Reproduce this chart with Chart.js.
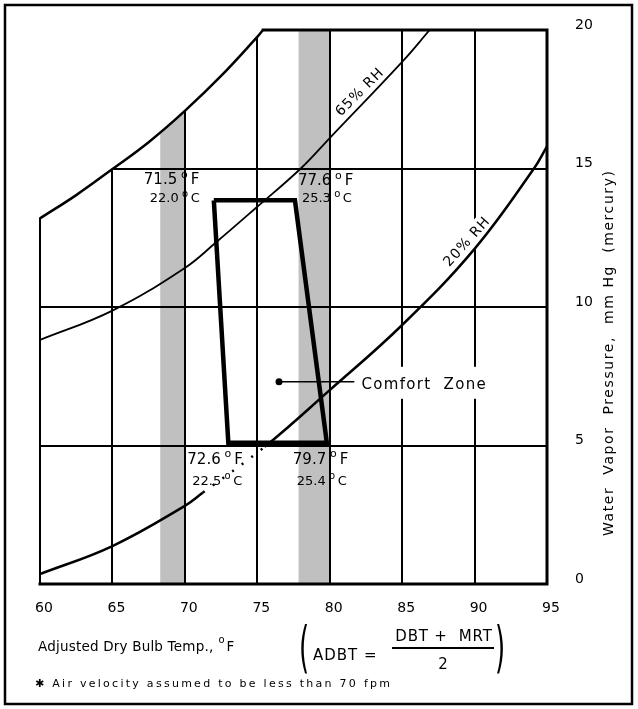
<!DOCTYPE html>
<html>
<head>
<meta charset="utf-8">
<script src="https://cdn.jsdelivr.net/npm/chart.js@4.4.0/dist/chart.umd.min.js"></script>
<style>
  html, body { margin: 0; padding: 0; background: #fff; }
  #wrap { width: 638px; height: 709px; position: relative; }
</style>
</head>
<body>
<div id="wrap"><canvas id="comfortChart"></canvas></div>
<script>
// Adjusted dry bulb temp (°F) against water vapour pressure (mm Hg)
const xTicks = [60, 65, 70, 75, 80, 85, 90, 95];
const yTicks = [0, 5, 10, 15, 20];

// upper boundary curve of the chart
const satTemp = [60, 62.5, 65, 67.5, 70, 72.5, 75, 75.4];
const satVp = [13.2, 14.04, 14.98, 15.95, 17.08, 18.34, 19.75, 20];

// 65% RH curve
const rh65Temp = [60, 65, 70, 72.1, 75, 78.0, 80, 85, 86.9];
const rh65Vp = [8.81, 9.87, 11.41, 12.31, 13.62, 15.0, 16.1, 18.85, 20];

// 20% RH curve
const rh20Temp = [60, 65, 70, 71.25, 75.5, 80, 85, 90, 94.1, 95];
const rh20Vp = [0.36, 1.37, 2.82, 3.3, 4.95, 7.0, 9.35, 12.1, 15.0, 15.8];

// shaded bands
const bandFrom = [68.3, 77.85];
const bandTo = [70, 80];

// comfort zone (TL, TR, BR, BL, back to TL)
const zoneTemp = [72.0, 77.6, 79.8, 73.0, 72.0];
const zoneVp = [13.85, 13.85, 5.1, 5.1, 13.85];
const cornerF = ['71.5', '77.6', '79.7', '72.6'];
const cornerC = ['22.0', '25.3', '25.4', '22.5'];

// pointer to the "Comfort Zone" text
const markerTemp = [76.5, 81.7];
const markerVp = [7.3, 7.3];

const FONT = '"DejaVu Sans", Verdana, sans-serif';

const pts = (xs, ys) => xs.map((x, i) => ({ x: x, y: ys[i] }));

function spaced(ctx, str, x, y, sp) {
  ctx.letterSpacing = sp + 'px';
  ctx.fillText(str, x, y);
  ctx.letterSpacing = '0px';
}

// number + raised "o" + unit
function degText(ctx, num, unit, x, y, size) {
  ctx.textAlign = 'left';
  ctx.textBaseline = 'alphabetic';
  ctx.font = size + 'px ' + FONT;
  ctx.fillText(num, x, y);
  let cx = x + ctx.measureText(num).width + size * 0.25;
  ctx.font = Math.round(size * 0.75) + 'px ' + FONT;
  ctx.fillText('o', cx, y - size * 0.42);
  cx += ctx.measureText('o').width + size * 0.2;
  ctx.font = size + 'px ' + FONT;
  ctx.fillText(unit, cx, y);
  return cx + ctx.measureText(unit).width;
}

// tall thin bracket: small font stretched vertically
function tallParen(ctx, ch, x, y) {
  ctx.save();
  ctx.translate(x, y);
  ctx.scale(1, 2.1);
  ctx.font = '26px ' + FONT;
  ctx.textBaseline = 'middle';
  ctx.textAlign = 'center';
  ctx.fillText(ch, 0, 0);
  ctx.restore();
}

// offsets of the corner labels from their corner: [F dx, F dy, C dx, C dy]
const cornerOffsets = [[-70, -16, -64, 2], [3, -15, 7, 2], [-34, 21, -30, 42], [-41, 21, -36, 42]];

const paperPlugin = {
  id: 'paper',
  beforeDraw(chart) {
    const ctx = chart.ctx;
    ctx.save();
    ctx.fillStyle = '#fff';
    ctx.fillRect(0, 0, chart.width, chart.height);
    ctx.restore();
  },
  beforeDatasetsDraw(chart) {
    const { ctx, chartArea: a, scales: { x, y } } = chart;
    const meta = chart.getDatasetMeta(0);
    meta.dataset.updateControlPoints(a);
    const sat = meta.data;

    ctx.save();
    ctx.beginPath();
    ctx.moveTo(a.left, a.bottom);
    ctx.lineTo(sat[0].x, sat[0].y);
    for (let i = 1; i < sat.length; i++) {
      const p = sat[i - 1], q = sat[i];
      if (p.cp2x !== undefined && q.cp1x !== undefined) {
        ctx.bezierCurveTo(p.cp2x, p.cp2y, q.cp1x, q.cp1y, q.x, q.y);
      } else {
        ctx.lineTo(q.x, q.y);
      }
    }
    ctx.lineTo(a.right, a.top);
    ctx.lineTo(a.right, a.bottom);
    ctx.closePath();
    ctx.clip();

    ctx.fillStyle = '#c0c0c0';
    bandFrom.forEach((b, i) => {
      const x0 = x.getPixelForValue(b), x1 = x.getPixelForValue(bandTo[i]);
      ctx.fillRect(x0, a.top, x1 - x0, a.bottom - a.top);
    });

    ctx.strokeStyle = '#000';
    ctx.lineWidth = 2;
    ctx.beginPath();
    xTicks.slice(1, -1).forEach(t => {
      const px = Math.round(x.getPixelForValue(t));
      ctx.moveTo(px, a.top);
      ctx.lineTo(px, a.bottom);
    });
    yTicks.slice(1, -1).forEach(t => {
      const py = Math.round(y.getPixelForValue(t));
      ctx.moveTo(a.left, py);
      ctx.lineTo(a.right, py);
    });
    ctx.stroke();

    // white patches under the curve labels
    ctx.fillStyle = '#fff';
    ctx.save();
    ctx.translate(x.getPixelForValue(89.5), y.getPixelForValue(12.35));
    ctx.rotate(-48 * Math.PI / 180);
    ctx.fillRect(-38, -10, 76, 20);
    ctx.restore();
    const czx = x.getPixelForValue(82.2), czy = y.getPixelForValue(7.3);
    ctx.fillRect(czx - 5, czy - 15, 135, 32);
    ctx.restore();

    // frame
    ctx.save();
    ctx.strokeStyle = '#000';
    ctx.lineCap = 'square';
    ctx.lineWidth = 2;
    ctx.beginPath();
    ctx.moveTo(a.left, a.bottom);
    ctx.lineTo(a.left, sat[0].y);
    ctx.stroke();
    ctx.lineWidth = 3;
    ctx.beginPath();
    ctx.moveTo(a.left, a.bottom);
    ctx.lineTo(a.right, a.bottom);
    ctx.lineTo(a.right, a.top);
    ctx.lineTo(sat[sat.length - 1].x, a.top);
    ctx.stroke();
    ctx.restore();
  },
  afterDatasetsDraw(chart) {
    const { ctx, scales: { x, y } } = chart;
    ctx.save();
    ctx.fillStyle = '#000';

    // curve labels
    const rhLabels = [['65% RH', 82.1, 17.75, -45], ['20% RH', 89.5, 12.35, -48]];
    rhLabels.forEach(([txt, tx, ty, ang]) => {
      ctx.save();
      ctx.translate(x.getPixelForValue(tx), y.getPixelForValue(ty));
      ctx.rotate(ang * Math.PI / 180);
      ctx.font = '14px ' + FONT;
      ctx.textAlign = 'left';
      ctx.textBaseline = 'middle';
      ctx.letterSpacing = '1px';
      const w = ctx.measureText(txt).width;
      ctx.fillText(txt, -w / 2, 0);
      ctx.restore();
    });

    ctx.font = '15px ' + FONT;
    ctx.textAlign = 'left';
    ctx.textBaseline = 'middle';
    spaced(ctx, 'Comfort  Zone', x.getPixelForValue(82.2), y.getPixelForValue(7.3) + 3, 1.3);

    // corner temperatures
    for (let i = 0; i < 4; i++) {
      const px = x.getPixelForValue(zoneTemp[i]);
      const py = y.getPixelForValue(zoneVp[i]);
      const o = cornerOffsets[i];
      degText(ctx, cornerF[i], 'F', px + o[0], py + o[1], 15);
      degText(ctx, cornerC[i], 'C', px + o[2], py + o[3], 13);
    }
    ctx.restore();
  },
  afterDraw(chart) {
    const ctx = chart.ctx;
    ctx.save();
    ctx.fillStyle = '#000';
    ctx.strokeStyle = '#000';

    // outer frame
    ctx.lineWidth = 2.5;
    ctx.strokeRect(5, 5, 627, 699);

    // vertical axis title
    ctx.save();
    ctx.translate(609, 354);
    ctx.rotate(-Math.PI / 2);
    ctx.font = '14px ' + FONT;
    ctx.textAlign = 'left';
    ctx.textBaseline = 'middle';
    const yTitle = 'Water  Vapor  Pressure,  mm Hg  (mercury)';
    const w0 = ctx.measureText(yTitle).width;
    const sp = (365 - w0) / (yTitle.length - 1);
    ctx.letterSpacing = sp + 'px';
    ctx.fillText(yTitle, -182, 0);
    ctx.restore();

    // horizontal axis title
    ctx.font = '13.5px ' + FONT;
    ctx.textAlign = 'left';
    ctx.textBaseline = 'alphabetic';
    ctx.letterSpacing = '0.2px';
    const t1 = 'Adjusted Dry Bulb Temp.,';
    ctx.fillText(t1, 38, 651);
    let cx = 38 + ctx.measureText(t1).width + 5;
    ctx.letterSpacing = '0px';
    ctx.font = '10px ' + FONT;
    ctx.fillText('o', cx, 643);
    ctx.font = '13.5px ' + FONT;
    ctx.fillText('F', cx + 8, 651);

    // formula
    tallParen(ctx, '(', 304, 652);
    tallParen(ctx, ')', 500, 652);
    ctx.font = '15px ' + FONT;
    ctx.textAlign = 'left';
    ctx.textBaseline = 'middle';
    spaced(ctx, 'ADBT =', 313, 656, 1);
    ctx.textAlign = 'center';
    spaced(ctx, 'DBT +  MRT', 444, 637, 0.8);
    ctx.fillText('2', 443, 665);
    ctx.lineWidth = 2;
    ctx.beginPath();
    ctx.moveTo(392, 648);
    ctx.lineTo(494, 648);
    ctx.stroke();

    // footnote
    ctx.textAlign = 'left';
    ctx.textBaseline = 'alphabetic';
    ctx.font = '11px ' + FONT;
    const note = '\u2731 Air velocity assumed to be less than 70 fpm';
    ctx.letterSpacing = '0px';
    const nw = ctx.measureText(note).width;
    ctx.letterSpacing = ((355 - nw) / (note.length - 1)) + 'px';
    ctx.fillText(note, 35, 687);
    ctx.letterSpacing = '0px';
    ctx.restore();
  }
};

const curveStyle = {
  borderColor: '#000',
  pointRadius: 0,
  fill: false,
  tension: 0.4
};

const config = {
  type: 'line',
  data: {
    datasets: [
      Object.assign({ label: 'limit', data: pts(satTemp, satVp), borderWidth: 2.5 }, curveStyle),
      Object.assign({ label: '65% RH', data: pts(rh65Temp, rh65Vp), borderWidth: 1.8 }, curveStyle),
      Object.assign({
        label: '20% RH', data: pts(rh20Temp, rh20Vp), borderWidth: 2.5,
        segment: { borderDash: c => (c.p0DataIndex === 3 ? [2, 10] : undefined) }
      }, curveStyle),
      {
        label: 'Comfort Zone', data: pts(zoneTemp, zoneVp), borderColor: '#000',
        borderWidth: 4.5, pointRadius: 0, tension: 0, fill: false, borderJoinStyle: 'miter'
      },
      {
        label: 'pointer', data: pts(markerTemp, markerVp), borderColor: '#000',
        borderWidth: 1.5, pointRadius: [3.5, 0], pointBackgroundColor: '#000',
        pointBorderWidth: 0, tension: 0, fill: false
      }
    ]
  },
  options: {
    responsive: true,
    maintainAspectRatio: false,
    animation: false,
    events: [],
    layout: { padding: { left: 40, top: 30, right: 0, bottom: 0 } },
    plugins: { legend: { display: false }, tooltip: { enabled: false } },
    scales: {
      x: {
        type: 'linear', min: 60, max: 95,
        afterFit: s => { s.height = 125; s.paddingLeft = 0; s.paddingRight = 0; },
        afterBuildTicks: s => { s.ticks = xTicks.map(v => ({ value: v })); },
        grid: { display: false, drawTicks: false },
        border: { display: false },
        ticks: { color: '#000', font: { family: FONT, size: 14 }, padding: 16, labelOffset: 4, autoSkip: false, maxRotation: 0 }
      },
      y: {
        type: 'linear', position: 'right', min: 0, max: 20,
        afterFit: s => { s.width = 91; s.paddingTop = 0; s.paddingBottom = 0; },
        afterBuildTicks: s => { s.ticks = yTicks.map(v => ({ value: v })); },
        grid: { display: false, drawTicks: false },
        border: { display: false },
        ticks: { color: '#000', font: { family: FONT, size: 14 }, padding: 28, labelOffset: -5, autoSkip: false }
      }
    }
  },
  plugins: [paperPlugin]
};

window.addEventListener('DOMContentLoaded', () => {
  const canvas = document.getElementById('comfortChart');
  new Chart(canvas.getContext('2d'), config);
});
</script>
</body>
</html>
